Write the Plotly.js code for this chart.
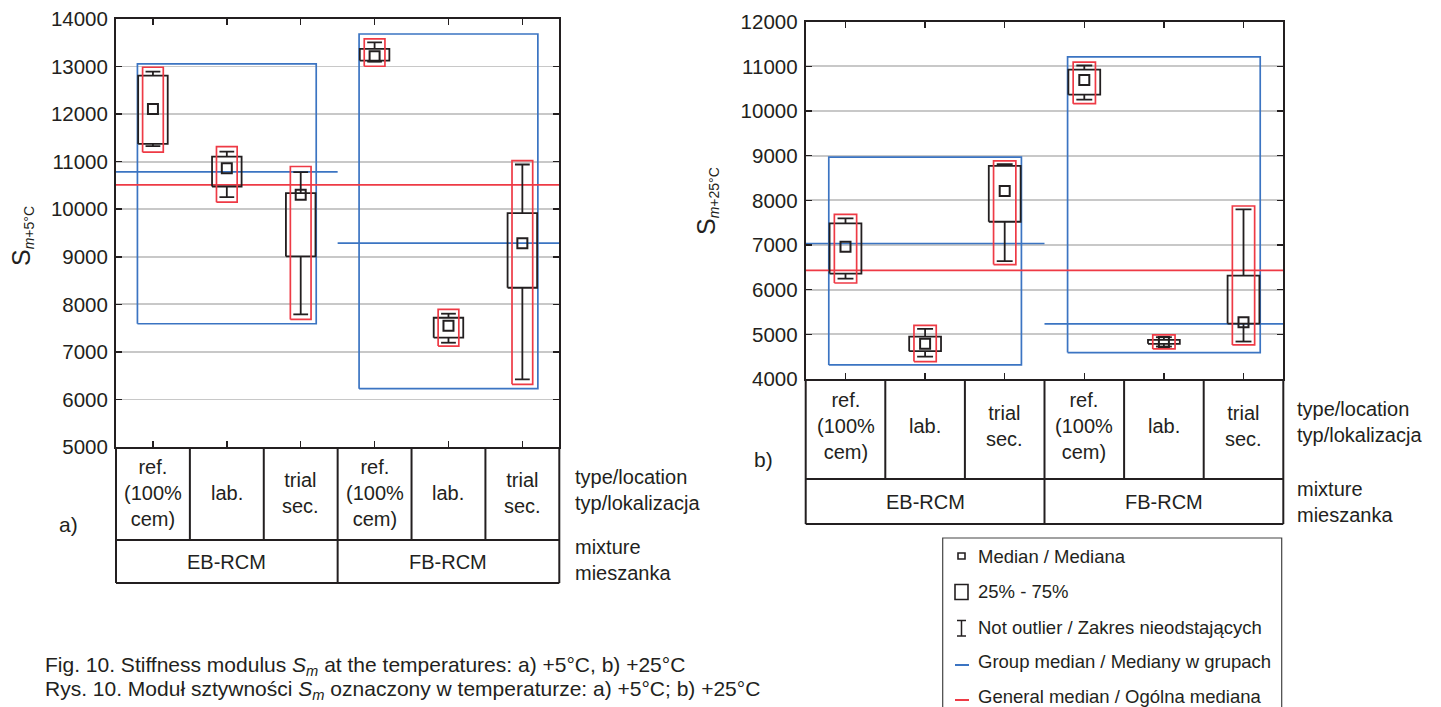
<!DOCTYPE html>
<html><head><meta charset="utf-8">
<script src="https://cdn.plot.ly/plotly-3.0.1.min.js"></script>
<style>html,body{margin:0;padding:0;background:#fff;overflow:hidden}</style>
</head><body><div id="chart" style="width:1441px;height:707px"></div>
<script>
// ---------- data ----------
const typeLabels = ['ref.<br>(100%<br>cem)', 'lab.', 'trial<br>sec.', 'ref.<br>(100%<br>cem)', 'lab.', 'trial<br>sec.'];
const mixtures = ['EB-RCM', 'FB-RCM'];

// a) +5°C
const aQ1      = [11374, 10478, 9007, 13125, 7298, 8349];
const aQ3      = [12810, 11108, 10338, 13370, 7718, 9917];
const aMedian  = [12109, 10863, 10303, 13216, 7550, 9287];
const aWLow    = [11325, 10254, 7789, 13104, 7193, 6423];
const aWHigh   = [12894, 11213, 10779, 13510, 7803, 10940];
const aRedLow  = [11199, 10148, 7683, 13006, 7123, 6318];
const aRedHigh = [12985, 11318, 10898, 13580, 7894, 11024];
const aGroupMedian = [10786, 9287];
const aGroupLow    = [7592, 6227];
const aGroupHigh   = [13055, 13685];
const aGeneralMedian = 10513;

// b) +25°C
const bQ1      = [6360, 4622, 7521, 10367, 4787, 5240];
const bQ3      = [7483, 4951, 8772, 10929, 4876, 6315];
const bMedian  = [6959, 4787, 8210, 10697, 4831, 5273];
const bWLow    = [6247, 4502, 6637, 10255, 4727, 4839];
const bWHigh   = [7596, 5124, 8809, 11019, 4936, 7798];
const bRedLow  = [6150, 4390, 6562, 10165, 4674, 4764];
const bRedHigh = [7685, 5199, 8884, 11094, 4989, 7873];
const bGroupMedian = [7034, 5236];
const bGroupLow    = [4315, 4592];
const bGroupHigh   = [8966, 11213];
const bGeneralMedian = 6434;

const legendLabels = ['Median / Mediana', '25% - 75%', 'Not outlier / Zakres nieodstających',
  'Group median / Mediany w grupach', 'General median / Ogólna mediana'];

// ---------- helpers ----------
const W = 1441, H = 707;
const px = x => x / W, py = y => 1 - y / H;
const INK = '#231f20', BLUE = '#3b74c2', RED = '#ee3a45', GRID = '#c8c8c8';
const FONT = 'Liberation Sans, Arial, sans-serif';

function rect(xs, ys, x0, x1, y0, y1) { xs.push(x0, x1, x1, x0, x0, null); ys.push(y0, y0, y1, y1, y0, null); }
function seg(xs, ys, x0, y0, x1, y1) { xs.push(x0, x1, null); ys.push(y0, y1, null); }

function panelTraces(d, xa, ya) {
  const n = d.q1.length;
  const bx = [], by = [], wx = [], wy = [], rx = [], ry = [], gx = [], gy = [], mx = [], my = [];
  const BOX = 0.2, CAP = 0.1, RBOX = 0.14, GPAD = 0.21;
  const idx = [];
  for (let i = 0; i < n; i++) {
    idx.push(i);
    rect(bx, by, i - BOX, i + BOX, d.q1[i], d.q3[i]);
    seg(wx, wy, i, d.q3[i], i, d.wHigh[i]);
    seg(wx, wy, i - CAP, d.wHigh[i], i + CAP, d.wHigh[i]);
    seg(wx, wy, i, d.q1[i], i, d.wLow[i]);
    seg(wx, wy, i - CAP, d.wLow[i], i + CAP, d.wLow[i]);
    rect(rx, ry, i - RBOX, i + RBOX, d.redLow[i], d.redHigh[i]);
  }
  const per = n / d.groupMed.length;
  for (let g = 0; g < d.groupMed.length; g++) {
    const first = g * per, last = first + per - 1;
    rect(gx, gy, first - GPAD, last + GPAD, d.groupLow[g], d.groupHigh[g]);
    seg(mx, my, first - 0.5, d.groupMed[g], last + 0.5, d.groupMed[g]);
  }
  const c = { xaxis: xa, yaxis: ya, showlegend: false, hoverinfo: 'skip', type: 'scatter' };
  return [
    Object.assign({}, c, { x: gx, y: gy, mode: 'lines', line: { color: BLUE, width: 1.7 } }),
    Object.assign({}, c, { x: mx, y: my, mode: 'lines', line: { color: BLUE, width: 1.7 } }),
    Object.assign({}, c, { x: [-0.5, n - 0.5], y: [d.general, d.general], mode: 'lines', line: { color: RED, width: 1.7 } }),
    Object.assign({}, c, { x: bx, y: by, mode: 'lines', line: { color: INK, width: 1.8 } }),
    Object.assign({}, c, { x: wx, y: wy, mode: 'lines', line: { color: INK, width: 1.8 } }),
    Object.assign({}, c, { x: idx, y: d.med, mode: 'markers', marker: { symbol: 'square-open', size: 10, color: INK, line: { width: 2, color: INK } } }),
    Object.assign({}, c, { x: rx, y: ry, mode: 'lines', line: { color: RED, width: 1.7 } })
  ];
}

const dataA = { q1: aQ1, q3: aQ3, med: aMedian, wLow: aWLow, wHigh: aWHigh, redLow: aRedLow, redHigh: aRedHigh,
  groupMed: aGroupMedian, groupLow: aGroupLow, groupHigh: aGroupHigh, general: aGeneralMedian };
const dataB = { q1: bQ1, q3: bQ3, med: bMedian, wLow: bWLow, wHigh: bWHigh, redLow: bRedLow, redHigh: bRedHigh,
  groupMed: bGroupMedian, groupLow: bGroupLow, groupHigh: bGroupHigh, general: bGeneralMedian };

const traces = panelTraces(dataA, 'x', 'y').concat(panelTraces(dataB, 'x2', 'y2'));

// ---------- geometry of the two panels (pixels) ----------
const PA = { l: 116, r: 559.3, t: 19, b: 447, row: 540, bot: 583, row1c: 493, row2c: 561.5, side: 573, typeC: 490, mixC: 560 };
const PB = { l: 805.7, r: 1283.3, t: 21.7, b: 379, row: 479, bot: 524, row1c: 426, row2c: 501.5, side: 1295, typeC: 422, mixC: 502 };

function xAxis(P, anchor) {
  return { domain: [px(P.l), px(P.r)], range: [-0.5, typeLabels.length - 0.5], anchor: anchor,
    tickvals: typeLabels.map((_, i) => i), showticklabels: false, ticks: 'inside', ticklen: 6, tickwidth: 1.5,
    tickcolor: INK, showline: true, linecolor: INK, linewidth: 2, mirror: 'ticks', showgrid: false, zeroline: false, fixedrange: true };
}
function yAxis(P, anchor, lo, hi) {
  return { domain: [py(P.b), py(P.t)], range: [lo, hi], anchor: anchor, dtick: 1000, tick0: 0, tickformat: 'd',
    ticks: 'inside', ticklen: 6, tickwidth: 1.5, tickcolor: INK, showline: true, linecolor: INK, linewidth: 2,
    mirror: 'ticks', showgrid: true, gridcolor: GRID, gridwidth: 1.8, zeroline: false, fixedrange: true,
    tickfont: { family: FONT, size: 20.5, color: INK }, ticklabelstandoff: 2 };
}

const shapes = [], annotations = [];
const LINE = { color: INK, width: 2 };

function ann(text, x, y, o) {
  annotations.push(Object.assign({ text: text, x: x, y: y, xref: 'paper', yref: 'paper', showarrow: false,
    xanchor: 'center', yanchor: 'middle', font: { family: FONT, size: 20, color: INK } }, o || {}));
}

function table(P, xa) {
  const n = typeLabels.length, per = n / mixtures.length;
  shapes.push({ type: 'line', xref: 'paper', yref: 'paper', x0: px(P.l), x1: px(P.l), y0: py(P.b), y1: py(P.bot), line: LINE });
  shapes.push({ type: 'line', xref: 'paper', yref: 'paper', x0: px(P.r), x1: px(P.r), y0: py(P.b), y1: py(P.bot), line: LINE });
  shapes.push({ type: 'line', xref: 'paper', yref: 'paper', x0: px(P.l), x1: px(P.r), y0: py(P.row), y1: py(P.row), line: LINE });
  shapes.push({ type: 'line', xref: 'paper', yref: 'paper', x0: px(P.l), x1: px(P.r), y0: py(P.bot), y1: py(P.bot), line: LINE });
  for (let i = 0; i < n - 1; i++) {
    const groupEdge = (i + 1) % per === 0;
    shapes.push({ type: 'line', xref: xa, yref: 'paper', x0: i + 0.5, x1: i + 0.5, y0: py(P.b), y1: py(groupEdge ? P.bot : P.row), line: LINE });
  }
  typeLabels.forEach((t, i) => ann(t, i, py(P.row1c), { xref: xa }));
  mixtures.forEach((m, g) => ann(m, g * per + (per - 1) / 2, py(P.row2c), { xref: xa }));
  ann('type/location<br>typ/lokalizacja', px(P.side), py(P.typeC), { xanchor: 'left', align: 'left' });
  ann('mixture<br>mieszanka', px(P.side), py(P.mixC), { xanchor: 'left', align: 'left' });
}
table(PA, 'x');
table(PB, 'x2');

ann('a)', px(68), py(524), { font: { family: FONT, size: 21, color: INK } });
ann('b)', px(763), py(459), { font: { family: FONT, size: 21, color: INK } });

// y titles
ann('<span style="font-size:25px">S</span><sub><i>m</i>+5°C</sub>', px(22), py(236), { textangle: -90, font: { family: FONT, size: 20, color: INK } });
ann('<span style="font-size:25px">S</span><sub><i>m</i>+25°C</sub>', px(707), py(201), { textangle: -90, font: { family: FONT, size: 20, color: INK } });

// caption
ann('Fig. 10. Stiffness modulus <i>S<sub>m</sub></i> at the temperatures: a) +5°C, b) +25°C', px(43), py(666),
  { xanchor: 'left', font: { family: FONT, size: 21, color: INK } });
ann('Rys. 10. Moduł sztywności <i>S<sub>m</sub></i> oznaczony w temperaturze: a) +5°C; b) +25°C', px(43), py(690),
  { xanchor: 'left', font: { family: FONT, size: 21, color: INK } });

// legend box
shapes.push({ type: 'rect', xref: 'paper', yref: 'paper', x0: px(942.7), x1: px(1281.7), y0: py(538), y1: py(720), line: { color: '#444', width: 1.2 } });
const legY = [556, 591.7, 627, 661.7, 696.7];
legendLabels.forEach((t, i) => ann(t, px(976), py(legY[i]), { xanchor: 'left', font: { family: FONT, size: 18.5, color: INK } }));
shapes.push({ type: 'rect', xref: 'paper', yref: 'paper', x0: px(958), x1: px(965), y0: py(553), y1: py(559), line: { color: INK, width: 1.6 } });
shapes.push({ type: 'rect', xref: 'paper', yref: 'paper', x0: px(955), x1: px(968), y0: py(584.5), y1: py(599.5), line: { color: INK, width: 1.6 } });
shapes.push({ type: 'line', xref: 'paper', yref: 'paper', x0: px(961.5), x1: px(961.5), y0: py(620.5), y1: py(636), line: { color: INK, width: 1.5 } });
shapes.push({ type: 'line', xref: 'paper', yref: 'paper', x0: px(957), x1: px(966), y0: py(620.5), y1: py(620.5), line: { color: INK, width: 1.5 } });
shapes.push({ type: 'line', xref: 'paper', yref: 'paper', x0: px(957), x1: px(966), y0: py(636), y1: py(636), line: { color: INK, width: 1.5 } });
shapes.push({ type: 'line', xref: 'paper', yref: 'paper', x0: px(955), x1: px(969), y0: py(665), y1: py(665), line: { color: BLUE, width: 2 } });
shapes.push({ type: 'line', xref: 'paper', yref: 'paper', x0: px(955), x1: px(969), y0: py(700), y1: py(700), line: { color: RED, width: 2 } });

const layout = {
  width: W, height: H, autosize: false,
  margin: { l: 0, r: 0, t: 0, b: 0, pad: 0 },
  paper_bgcolor: '#fff', plot_bgcolor: '#fff',
  showlegend: false,
  xaxis: xAxis(PA, 'y'), yaxis: yAxis(PA, 'x', 5000, 14000),
  xaxis2: xAxis(PB, 'y2'), yaxis2: yAxis(PB, 'x2', 4000, 12000),
  shapes: shapes, annotations: annotations,
  font: { family: FONT, color: INK }
};

Plotly.newPlot('chart', traces, layout, { staticPlot: true, displayModeBar: false });
</script></body></html>
